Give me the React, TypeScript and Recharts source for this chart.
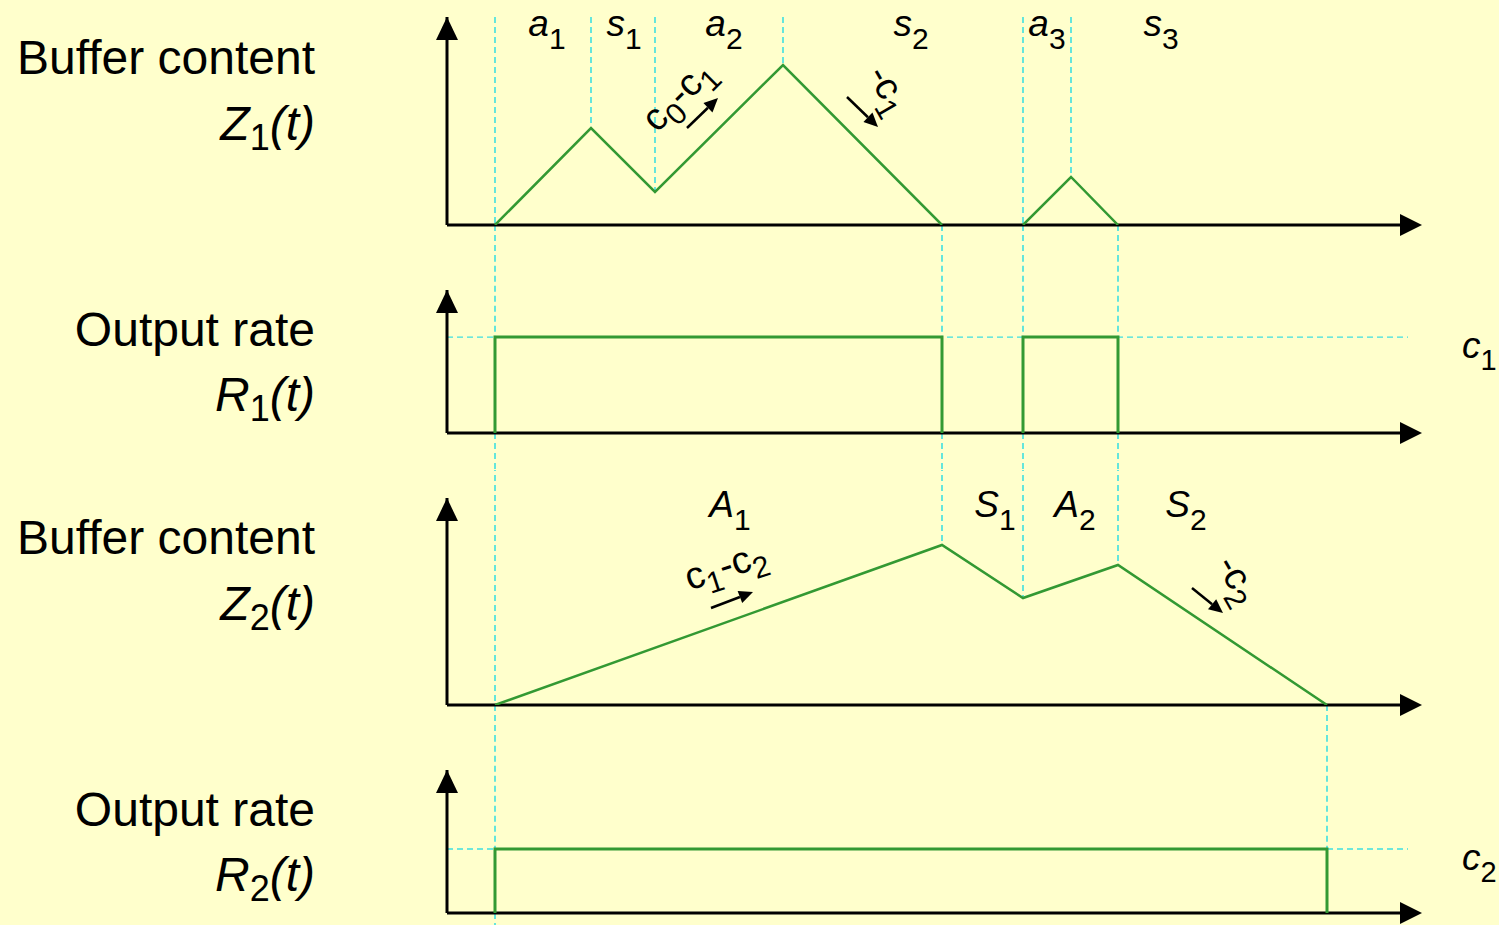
import React from 'react';
import { LineChart, Line, XAxis, YAxis, ReferenceLine, ReferenceDot } from 'recharts';

const FONT = '"Liberation Sans", Arial, Helvetica, sans-serif';
const BG = '#FFFFCC';
const GREEN = '#339933';
const GUIDE = '#3FE0E0';
const INK = '#000000';

// ---- time axis ----
const T_MAX = 95.3;
const T_GUIDE_END = 96.1;

// ---- rates ----
const C1 = 1;
const C2 = 0.667;

// ---- stage 1 buffer content Z1(t) (two busy periods) ----
const z1Busy1T = [4.8, 14.4, 20.8, 33.6, 49.5];
const z1Busy1V = [0, 9.7, 3.3, 16.0, 0];
const z1Busy2T = [57.6, 62.4, 67.1];
const z1Busy2V = [0, 4.8, 0];

// ---- output rate 1 busy periods ----
const r1Starts = [4.8, 57.6];
const r1Ends = [49.5, 67.1];

// ---- stage 2 buffer content Z2(t) ----
const z2T = [4.8, 49.5, 57.6, 67.1, 88.0];
const z2V = [0, 16.0, 10.7, 14.0, 0];

// ---- output rate 2 busy periods ----
const r2Starts = [4.8];
const r2Ends = [88.0];

// ---- period labels ----
const periodLetters1 = ['a', 's', 'a', 's', 'a', 's'];
const periodSubs1 = ['1', '1', '2', '2', '3', '3'];
const periodT1 = [10.0, 17.7, 27.7, 46.4, 60.0, 71.4];
const periodLetters2 = ['A', 'S', 'A', 'S'];
const periodSubs2 = ['1', '1', '2', '2'];
const periodT2 = [28.3, 54.8, 62.8, 73.9];

// ---- dashed guides ----
const guideTopToCurve1 = [4.8, 14.4, 20.8, 33.6, 57.6, 62.4];
const guideAxisDown1 = [4.8, 49.5, 57.6, 67.1];
const guideThrough2 = [4.8, 49.5, 57.6, 67.1];
const guideTopToCurve3 = [4.8, 49.5, 57.6, 67.1];
const guideAxisDown3 = [4.8, 88.0];
const guideTopToRate4 = [4.8, 88.0];
const guideAxisDown4 = [4.8];

// ---- y domains ----
const Y1_MAX = 20.8;
const R_MAX = 1.49;
const Y3_MAX = 20.7;

const W = 1499;
const PLOT_LEFT = 447;
const PLOT_RIGHT_MARGIN = 99;

const pts = (ts: number[], vs: number[]) => ts.map((t, i) => ({ t, v: vs[i] }));
const valueAt = (ts: number[][], vs: number[][], t: number) => {
  for (let k = 0; k < ts.length; k++) {
    const i = ts[k].indexOf(t);
    if (i >= 0) return vs[k][i];
  }
  return 0;
};
const pulse = (a: number, b: number, c: number) => [
  { t: a, v: 0 },
  { t: a, v: c },
  { t: b, v: c },
  { t: b, v: 0 },
];

type Part = { s: string; sub?: boolean; it?: boolean };
const renderParts = (parts: Part[], subSize: number, subDy: number) => {
  let cur = 0;
  return parts.map((p, i) => {
    const target = p.sub ? subDy : 0;
    const dy = target - cur;
    cur = target;
    return (
      <tspan key={i} dy={dy} fontSize={p.sub ? subSize : undefined} fontStyle={p.it ? 'italic' : 'normal'}>
        {p.s}
      </tspan>
    );
  });
};

const periodShape = (letter: string, sub: string) => (p: any) => (
  <text x={p.cx} y={p.cy + 19} textAnchor="middle" fontFamily={FONT} fontSize={37} fill={INK}>
    {renderParts([{ s: letter, it: true }, { s: sub, sub: true }], 30, 13)}
  </text>
);

const rotatedShape = (parts: Part[], angle: number) => (p: any) => (
  <text
    transform={`translate(${p.cx},${p.cy}) rotate(${angle})`}
    x={0}
    y={11}
    textAnchor="middle"
    fontFamily={FONT}
    fontSize={38}
    fill={INK}
  >
    {renderParts(parts, 30, 10)}
  </text>
);

const rateLabelShape = (sub: string) => (p: any) => (
  <text x={p.cx + 54} y={p.cy + 21} fontFamily={FONT} fontSize={37} fill={INK}>
    {renderParts([{ s: 'c', it: true }, { s: sub, sub: true }], 29, 12)}
  </text>
);

const xArrowShape = (p: any) => (
  <polygon points={`${p.cx},${p.cy - 11} ${p.cx + 22},${p.cy} ${p.cx},${p.cy + 11}`} fill={INK} />
);
const yArrowShape = (p: any) => (
  <polygon points={`${p.cx - 11},${p.cy + 23} ${p.cx},${p.cy} ${p.cx + 11},${p.cy + 23}`} fill={INK} />
);

const ArrowShape = (p: any) => {
  const { x1, y1, x2, y2 } = p;
  const ang = Math.atan2(y2 - y1, x2 - x1);
  const L = 14;
  const Wd = 6.5;
  const bx = x2 - L * Math.cos(ang);
  const by = y2 - L * Math.sin(ang);
  const px = -Math.sin(ang) * Wd;
  const py = Math.cos(ang) * Wd;
  return (
    <g>
      <line x1={x1} y1={y1} x2={bx} y2={by} stroke={INK} strokeWidth={2.5} />
      <polygon points={`${x2},${y2} ${bx + px},${by + py} ${bx - px},${by - py}`} fill={INK} />
    </g>
  );
};

const guideProps = { stroke: GUIDE, strokeWidth: 1.6, strokeDasharray: '6 4', ifOverflow: 'visible' as const };

const axes = (yMax: number) => [
  <XAxis key="x" type="number" dataKey="t" domain={[0, T_MAX]} allowDataOverflow hide />,
  <YAxis key="y" type="number" domain={[0, yMax]} allowDataOverflow hide />,
];

// axis lines with arrow heads, drawn through the chart's scales
const axisLines = (yMax: number) => [
  <ReferenceLine key="lx" segment={[{ x: 0, y: 0 }, { x: T_MAX, y: 0 }]} stroke={INK} strokeWidth={3} ifOverflow="visible" />,
  <ReferenceLine key="ly" segment={[{ x: 0, y: 0 }, { x: 0, y: yMax }]} stroke={INK} strokeWidth={3} ifOverflow="visible" />,
  <ReferenceDot key="ax" x={T_MAX} y={0} ifOverflow="visible" shape={xArrowShape} />,
  <ReferenceDot key="ay" x={0} y={yMax} ifOverflow="visible" shape={yArrowShape} />,
];

const Band = ({ top, height, children }: { top: number; height: number; children: React.ReactNode }) => (
  <div style={{ position: 'absolute', left: 0, top, width: W, height, overflow: 'hidden' }}>{children}</div>
);

const SideLabel = ({ baseline, children }: { baseline: number; children: React.ReactNode }) => (
  <div
    style={{
      position: 'absolute',
      left: 0,
      width: 315,
      top: baseline - 40,
      textAlign: 'right',
      fontFamily: FONT,
      fontSize: 48,
      lineHeight: '48px',
      whiteSpace: 'nowrap',
      color: INK,
    }}
  >
    {children}
  </div>
);

const Sub = ({ children }: { children: React.ReactNode }) => (
  <span style={{ fontSize: 36, fontStyle: 'normal', position: 'relative', top: 10 }}>{children}</span>
);

const lineProps = {
  type: 'linear' as const,
  dataKey: 'v',
  stroke: GREEN,
  dot: false,
  activeDot: false,
  isAnimationActive: false,
};

export default function App() {
  const z1Ts = [z1Busy1T, z1Busy2T];
  const z1Vs = [z1Busy1V, z1Busy2V];
  const BIG = 100;
  return (
    <div style={{ position: 'fixed', left: 0, top: 0, width: W, height: 925, background: BG, overflow: 'hidden' }}>
      {/* Panel 1: Z1(t) */}
      <Band top={0} height={258}>
        <LineChart width={W} height={258} margin={{ top: 17, right: PLOT_RIGHT_MARGIN, bottom: 33, left: PLOT_LEFT }}>
          {axes(Y1_MAX)}
          {guideTopToCurve1.map((t) => (
            <ReferenceLine key={'g1a' + t} segment={[{ x: t, y: Y1_MAX }, { x: t, y: valueAt(z1Ts, z1Vs, t) }]} {...guideProps} />
          ))}
          {guideAxisDown1.map((t) => (
            <ReferenceLine key={'g1b' + t} segment={[{ x: t, y: 0 }, { x: t, y: -BIG }]} {...guideProps} />
          ))}
          {axisLines(Y1_MAX)}
          <Line {...lineProps} data={pts(z1Busy1T, z1Busy1V)} strokeWidth={2.5} />
          <Line {...lineProps} data={pts(z1Busy2T, z1Busy2V)} strokeWidth={2.5} />
          {periodT1.map((t, i) => (
            <ReferenceDot key={'p1' + i} x={t} y={Y1_MAX} ifOverflow="visible" shape={periodShape(periodLetters1[i], periodSubs1[i])} />
          ))}
          <ReferenceDot
            x={23.2}
            y={12.9}
            ifOverflow="visible"
            shape={rotatedShape([{ s: 'c' }, { s: '0', sub: true }, { s: '-c' }, { s: '1', sub: true }], -45)}
          />
          <ReferenceLine segment={[{ x: 24.0, y: 9.7 }, { x: 27.1, y: 12.7 }]} ifOverflow="visible" shape={ArrowShape} />
          <ReferenceDot
            x={44.1}
            y={13.5}
            ifOverflow="visible"
            shape={rotatedShape([{ s: '-c' }, { s: '1', sub: true }], 60)}
          />
          <ReferenceLine segment={[{ x: 40.0, y: 12.8 }, { x: 43.1, y: 9.8 }]} ifOverflow="visible" shape={ArrowShape} />
        </LineChart>
      </Band>

      {/* Panel 2: R1(t) */}
      <Band top={258} height={212}>
        <LineChart width={W} height={212} margin={{ top: 32, right: PLOT_RIGHT_MARGIN, bottom: 37, left: PLOT_LEFT }}>
          {axes(R_MAX)}
          {guideThrough2.map((t) => (
            <ReferenceLine key={'g2a' + t} segment={[{ x: t, y: BIG }, { x: t, y: C1 }]} {...guideProps} />
          ))}
          {guideThrough2.map((t) => (
            <ReferenceLine key={'g2b' + t} segment={[{ x: t, y: 0 }, { x: t, y: -BIG }]} {...guideProps} />
          ))}
          <ReferenceLine segment={[{ x: 0, y: C1 }, { x: T_GUIDE_END, y: C1 }]} {...guideProps} strokeWidth={1.3} />
          {axisLines(R_MAX)}
          {r1Starts.map((s, i) => (
            <Line key={'r1' + i} {...lineProps} data={pulse(s, r1Ends[i], C1)} strokeWidth={3} />
          ))}
          <ReferenceDot x={T_GUIDE_END} y={C1} ifOverflow="visible" shape={rateLabelShape('1')} />
        </LineChart>
      </Band>

      {/* Panel 3: Z2(t) */}
      <Band top={470} height={268}>
        <LineChart width={W} height={268} margin={{ top: 28, right: PLOT_RIGHT_MARGIN, bottom: 33, left: PLOT_LEFT }}>
          {axes(Y3_MAX)}
          {guideTopToCurve3.map((t) => (
            <ReferenceLine key={'g3a' + t} segment={[{ x: t, y: BIG }, { x: t, y: valueAt([z2T], [z2V], t) }]} {...guideProps} />
          ))}
          {guideAxisDown3.map((t) => (
            <ReferenceLine key={'g3b' + t} segment={[{ x: t, y: 0 }, { x: t, y: -BIG }]} {...guideProps} />
          ))}
          {axisLines(Y3_MAX)}
          <Line {...lineProps} data={pts(z2T, z2V)} strokeWidth={2.5} />
          {periodT2.map((t, i) => (
            <ReferenceDot key={'p2' + i} x={t} y={Y3_MAX} ifOverflow="visible" shape={periodShape(periodLetters2[i], periodSubs2[i])} />
          ))}
          <ReferenceDot
            x={27.9}
            y={13.8}
            ifOverflow="visible"
            shape={rotatedShape([{ s: 'c' }, { s: '1', sub: true }, { s: '-c' }, { s: '2', sub: true }], -18)}
          />
          <ReferenceLine segment={[{ x: 26.4, y: 9.7 }, { x: 30.6, y: 11.3 }]} ifOverflow="visible" shape={ArrowShape} />
          <ReferenceDot
            x={79.0}
            y={12.5}
            ifOverflow="visible"
            shape={rotatedShape([{ s: '-c' }, { s: '2', sub: true }], 60)}
          />
          <ReferenceLine segment={[{ x: 74.5, y: 11.7 }, { x: 77.6, y: 9.2 }]} ifOverflow="visible" shape={ArrowShape} />
        </LineChart>
      </Band>

      {/* Panel 4: R2(t) */}
      <Band top={738} height={187}>
        <LineChart width={W} height={187} margin={{ top: 32, right: PLOT_RIGHT_MARGIN, bottom: 12, left: PLOT_LEFT }}>
          {axes(R_MAX)}
          {guideTopToRate4.map((t) => (
            <ReferenceLine key={'g4a' + t} segment={[{ x: t, y: BIG }, { x: t, y: C2 }]} {...guideProps} />
          ))}
          {guideAxisDown4.map((t) => (
            <ReferenceLine key={'g4b' + t} segment={[{ x: t, y: 0 }, { x: t, y: -BIG }]} {...guideProps} />
          ))}
          <ReferenceLine segment={[{ x: 0, y: C2 }, { x: T_GUIDE_END, y: C2 }]} {...guideProps} strokeWidth={1.3} />
          {axisLines(R_MAX)}
          {r2Starts.map((s, i) => (
            <Line key={'r2' + i} {...lineProps} data={pulse(s, r2Ends[i], C2)} strokeWidth={3} />
          ))}
          <ReferenceDot x={T_GUIDE_END} y={C2} ifOverflow="visible" shape={rateLabelShape('2')} />
        </LineChart>
      </Band>

      {/* Left-hand labels */}
      <SideLabel baseline={74}>Buffer content</SideLabel>
      <SideLabel baseline={140}>
        <i>Z</i>
        <Sub>1</Sub>
        <i>(t)</i>
      </SideLabel>
      <SideLabel baseline={346}>Output rate</SideLabel>
      <SideLabel baseline={411}>
        <i>R</i>
        <Sub>1</Sub>
        <i>(t)</i>
      </SideLabel>
      <SideLabel baseline={554}>Buffer content</SideLabel>
      <SideLabel baseline={620}>
        <i>Z</i>
        <Sub>2</Sub>
        <i>(t)</i>
      </SideLabel>
      <SideLabel baseline={826}>Output rate</SideLabel>
      <SideLabel baseline={891}>
        <i>R</i>
        <Sub>2</Sub>
        <i>(t)</i>
      </SideLabel>
    </div>
  );
}
